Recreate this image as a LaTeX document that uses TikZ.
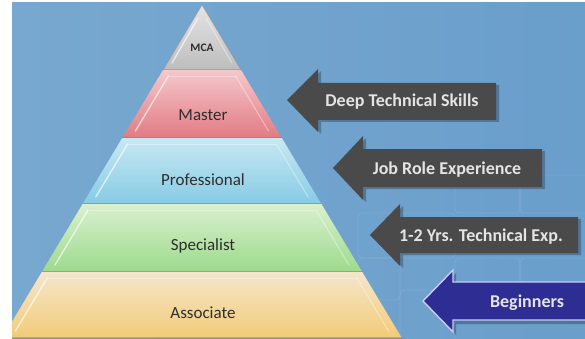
\documentclass[tikz,border=0pt]{standalone}
\usepackage{fontspec}
\setmainfont{Carlito}
\usetikzlibrary{calc}
\definecolor{bgL}{HTML}{78A8CF}
\definecolor{bgR}{HTML}{6A9ECB}
\definecolor{mcaT}{HTML}{E4E4E4}
\definecolor{mcaB}{HTML}{BDBDBD}
\definecolor{masT}{HTML}{F5C8CB}
\definecolor{masB}{HTML}{E27A83}
\definecolor{proT}{HTML}{C8E8F2}
\definecolor{proB}{HTML}{86CBE6}
\definecolor{speT}{HTML}{DAF0CE}
\definecolor{speB}{HTML}{9CDA8C}
\definecolor{assT}{HTML}{F4E6CC}
\definecolor{assB}{HTML}{F3CB76}
\definecolor{arrGray}{HTML}{4B4A4A}
\definecolor{arrBlue}{HTML}{2D2D93}
\definecolor{arrText}{HTML}{E4E4E4}
\definecolor{labText}{HTML}{2E2E2E}
\tikzset{
  tierlabel/.style={font=\fontsize{17}{17}\selectfont, text=labText, anchor=base, inner sep=0pt},
  mcalabel/.style={font=\bfseries\fontsize{11.5}{11.5}\selectfont, text=labText, anchor=base, inner sep=0pt},
  arrlabel/.style={font=\bfseries\fontsize{18}{18}\selectfont, text=arrText, anchor=base, inner sep=0pt},
  grayarrow/.style={fill=arrGray},
  bluearrow/.style={fill=arrBlue, draw=white!80!blue, line width=1.4pt, line join=miter},
  arrshadow/.style={fill=black, opacity=0.25},
  hilite/.style={draw=white, opacity=0.65, line width=1.3pt, line cap=round},
  hiliteR/.style={draw=white, opacity=0.4, line width=1pt, line cap=round},
  gridline/.style={draw=white, opacity=0.1, line width=0.8pt, rounded corners=4pt}
}
\newcommand\mytier[7]{% #1 ytop, #2 ybot, #3 top col, #4 bottom col, #5 name, #6 label, #7 baseline
  \pgfmathsetmacro\tlt{202-0.6*(#1-5)}
  \pgfmathsetmacro\trt{202+0.6*(#1-5)}
  \pgfmathsetmacro\tlb{202-0.6*(#2-5)}
  \pgfmathsetmacro\trb{202+0.6*(#2-5)}
  \shade[top color=#3, bottom color=#4] (\tlt,#1) -- (\trt,#1) -- (\trb,#2) -- (\tlb,#2) -- cycle;
  \pgfmathsetmacro\tya{#1+6}
  \pgfmathsetmacro\tyb{#2-7}
  \pgfmathsetmacro\tla{202-0.6*(\tya-5)+9}
  \pgfmathsetmacro\tlbb{202-0.6*(\tyb-5)+9}
  \pgfmathsetmacro\tra{202+0.6*(\tya-5)-9}
  \pgfmathsetmacro\trbb{202+0.6*(\tyb-5)-9}
  \draw[hilite] (\tla,\tya) -- (\tlbb,\tyb);
  \draw[hiliteR] (\tra,\tya) -- (\trbb,\tyb);
  \draw[draw=white, opacity=0.3, line width=0.8pt] (\tla,\tya) -- (\tra,\tya);
  \draw[draw=#4!60!black, opacity=0.45, line width=1.2pt] (\tlb,#2) -- (\trb,#2);
  \node[tierlabel] (#5) at (203,#7) {#6};
}
\begin{document}
\begin{tikzpicture}[x=1pt,y=-1pt]
\useasboundingbox (0,0) rectangle (585,339);
\fill[white] (0,0) rectangle (585,339);
\begin{scope}
\clip (12,3) rectangle (585,338);
\shade[left color=bgL, right color=bgR] (12,3) rectangle (585,338);
% faint background grid
\draw[gridline] (358,213) rectangle (400,258);
\draw[gridline] (400,213) rectangle (455,258);
\draw[gridline] (455,175) rectangle (520,213);
\draw[gridline] (520,175) rectangle (590,213);
\draw[gridline] (455,258) rectangle (520,290);
\draw[gridline] (520,258) rectangle (590,290);
\draw[gridline] (400,290) rectangle (455,345);
\draw[gridline] (358,258) rectangle (400,300);
% pyramid
\shade[top color=mcaT, bottom color=mcaB] (202,5) -- (241,70) -- (163,70) -- cycle;
\draw[hilite] (198,18) -- (172,63);
\draw[hiliteR] (206,18) -- (232,63);
\draw[draw=black!45, opacity=0.6, line width=0.6pt] (163,70) -- (202,5) -- (241,70);
\draw[draw=black!50, opacity=0.5, line width=1.2pt] (163,70) -- (241,70);
\node[mcalabel] (mca) at (202,52) {MCA};
\mytier{70}{138}{masT}{masB}{master}{Master}{121}
\mytier{138}{204}{proT}{proB}{professional}{Professional}{185}
\mytier{204}{272}{speT}{speB}{specialist}{Specialist}{250}
\mytier{272}{338}{assT}{assB}{associate}{Associate}{318}
% arrows
\fill[arrshadow] (290,102) -- (321,71) -- (321,85) -- (499,85) -- (499,122) -- (321,122) -- (321,134) -- cycle;
\fill[grayarrow] (287,100) -- (318,69) -- (318,83) -- (496,83) -- (496,120) -- (318,120) -- (318,132) -- cycle;
\node[arrlabel] (deep) at (402,107) {Deep Technical Skills};
\fill[arrshadow] (336,170) -- (366,138) -- (366,151) -- (545,151) -- (545,189) -- (366,189) -- (366,202) -- cycle;
\fill[grayarrow] (333,168) -- (363,136) -- (363,149) -- (542,149) -- (542,187) -- (363,187) -- (363,200) -- cycle;
\node[arrlabel] (job) at (447,174) {Job Role Experience};
\fill[arrshadow] (373,237) -- (403,206) -- (403,219) -- (581,219) -- (581,255) -- (403,255) -- (403,268) -- cycle;
\fill[grayarrow] (370,235) -- (400,204) -- (400,217) -- (578,217) -- (578,253) -- (400,253) -- (400,266) -- cycle;
\node[arrlabel] (tech) at (481,241) {1-2 Yrs. Technical Exp.};
\fill[arrshadow] (426,303) -- (456,273) -- (456,285) -- (590,285) -- (590,324) -- (456,324) -- (456,335) -- cycle;
\filldraw[bluearrow] (423,301) -- (453,270) -- (453,282) -- (592,282) -- (592,320) -- (453,320) -- (453,332) -- cycle;
\node[arrlabel] (begin) at (527,307) {Beginners};
\end{scope}
\end{tikzpicture}
\end{document}
